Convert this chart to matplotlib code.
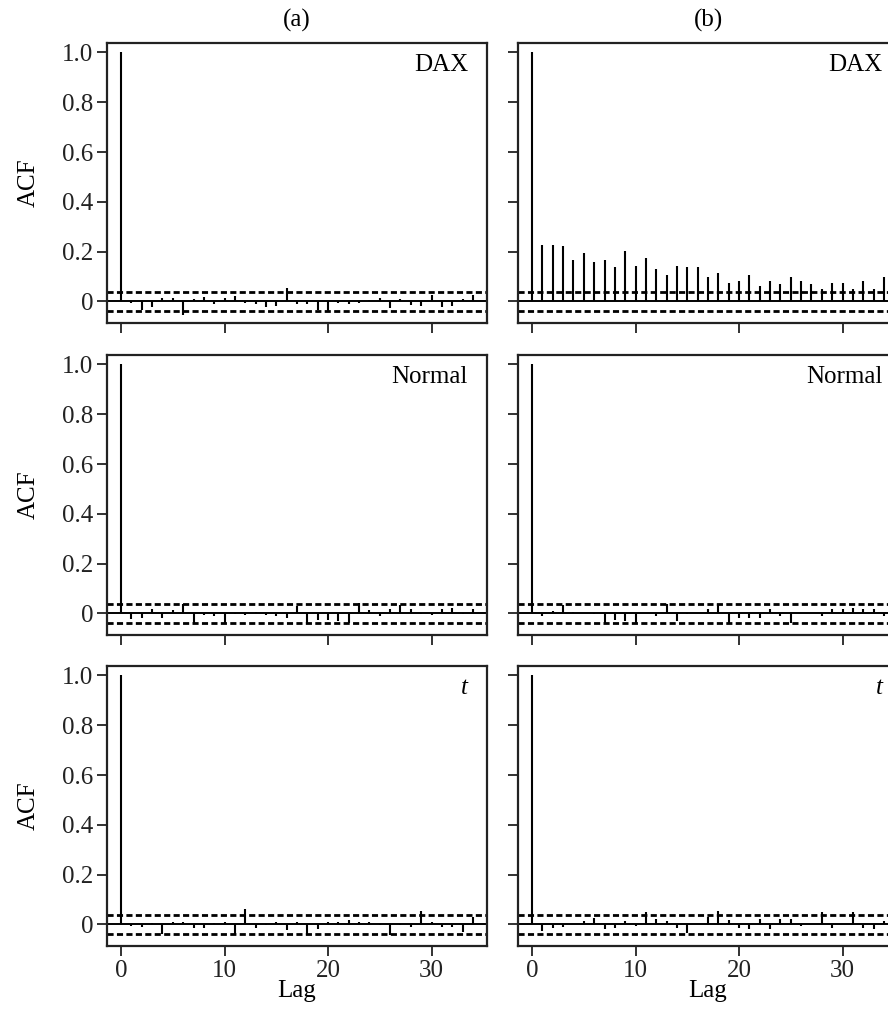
import numpy as np
import matplotlib
matplotlib.use("Agg")
import matplotlib.pyplot as plt

plt.rcParams["font.family"] = ["Liberation Serif", "DejaVu Serif"]
plt.rcParams["font.size"] = 18

# sample ACF values, lags 0..34
lags = np.arange(35)

dax_ret = [1.0, -0.008, -0.034, -0.023, 0.014, 0.014, -0.054, 0.010, 0.018, -0.010,
           0.012, 0.020, -0.008, -0.012, -0.022, -0.018, 0.055, -0.010, -0.012, -0.035,
           -0.040, -0.006, -0.010, -0.008, 0.006, 0.012, -0.028, 0.010, -0.013, -0.018,
           0.026, -0.022, -0.020, 0.008, 0.026]
dax_abs = [1.0, 0.227, 0.227, 0.221, 0.166, 0.196, 0.159, 0.166, 0.136, 0.204,
           0.142, 0.173, 0.128, 0.105, 0.142, 0.136, 0.136, 0.098, 0.112, 0.074,
           0.082, 0.105, 0.060, 0.082, 0.068, 0.098, 0.082, 0.068, 0.050, 0.074,
           0.074, 0.050, 0.082, 0.050, 0.098]
norm_ret = [1.0, -0.024, -0.018, 0.016, -0.018, 0.014, 0.037, -0.038, -0.005, -0.010,
            -0.038, -0.004, -0.006, 0.004, -0.008, -0.011, -0.018, 0.030, -0.038, -0.025,
            -0.025, -0.032, -0.038, 0.043, 0.014, -0.010, 0.016, 0.032, 0.016, -0.004,
            -0.005, 0.016, 0.022, -0.004, 0.016]
norm_abs = [1.0, -0.011, 0.010, 0.033, 0.004, 0.003, -0.004, -0.038, -0.025, -0.031,
            -0.038, 0.003, -0.011, 0.037, -0.031, -0.004, 0.003, 0.016, 0.037, -0.038,
            -0.018, -0.018, -0.018, 0.016, -0.011, -0.038, 0.003, 0.003, -0.011, 0.016,
            0.016, 0.023, 0.016, 0.016, -0.011]
t_ret = [1.0, -0.005, -0.010, 0.005, -0.037, 0.011, 0.011, -0.016, -0.016, 0.007,
         0.011, -0.044, 0.060, -0.016, -0.004, 0.011, -0.023, 0.011, -0.044, -0.020,
         0.011, 0.011, 0.018, 0.011, 0.011, -0.004, -0.044, -0.003, -0.010, 0.052,
         0.011, -0.010, -0.010, -0.030, 0.031]
t_abs = [1.0, -0.027, -0.014, -0.011, 0.003, 0.014, 0.024, -0.020, -0.014, 0.014,
         -0.007, 0.048, 0.020, 0.014, -0.014, -0.034, 0.003, 0.030, 0.054, 0.016,
         -0.014, -0.020, 0.020, -0.020, 0.020, 0.020, -0.007, 0.003, 0.048, -0.014,
         0.003, 0.048, -0.014, -0.020, 0.014]

conf = 0.037
row_names = ["DAX", "Normal", "t"]
col_titles = ["(a)", "(b)"]
series = [[dax_ret, dax_abs], [norm_ret, norm_abs], [t_ret, t_abs]]

fig = plt.figure(figsize=(8.88, 10.1), dpi=100)

lefts = [107 / 888, 518 / 888]
width = 380 / 888
bottoms = [1 - 323 / 1010, 1 - 635 / 1010, 1 - 946 / 1010]
height = 280 / 1010

for r in range(3):
    for c in range(2):
        ax = fig.add_axes([lefts[c], bottoms[r], width, height])
        acf = series[r][c]
        ax.vlines(lags, 0, acf, color="black", lw=1.5)
        ax.axhline(0, color="black", lw=1.4)
        for b in (conf, -conf):
            ax.axhline(b, color="black", lw=2.0, linestyle=(0, (2.2, 1.2)))
        ax.set_xlim(-1.36, 35.36)
        ax.set_ylim(-0.087, 1.038)
        ax.set_yticks([0, 0.2, 0.4, 0.6, 0.8, 1.0])
        ax.set_xticks([0, 10, 20, 30])
        ax.tick_params(direction="out", length=7, width=1.3, colors="#222222",
                       labelsize=18, pad=3)
        for sp in ax.spines.values():
            sp.set_linewidth(1.6)
            sp.set_color("#222222")
        if c == 0:
            ax.set_yticklabels(["0", "0.2", "0.4", "0.6", "0.8", "1.0"])
            ax.set_ylabel("ACF", fontsize=18, labelpad=16)
        else:
            ax.set_yticklabels([])
        if r == 2:
            ax.set_xticklabels(["0", "10", "20", "30"])
            ax.set_xlabel("Lag", fontsize=18, labelpad=-1)
        else:
            ax.set_xticklabels([])
        if r == 0:
            ax.set_title(col_titles[c], fontsize=18, pad=12)
        name = row_names[r]
        ax.text(0.95 if c == 0 else 0.96, 0.92, name, transform=ax.transAxes,
                ha="right", va="center", fontsize=18,
                style="italic" if name == "t" else "normal")

fig.savefig("out.png", dpi=100)
